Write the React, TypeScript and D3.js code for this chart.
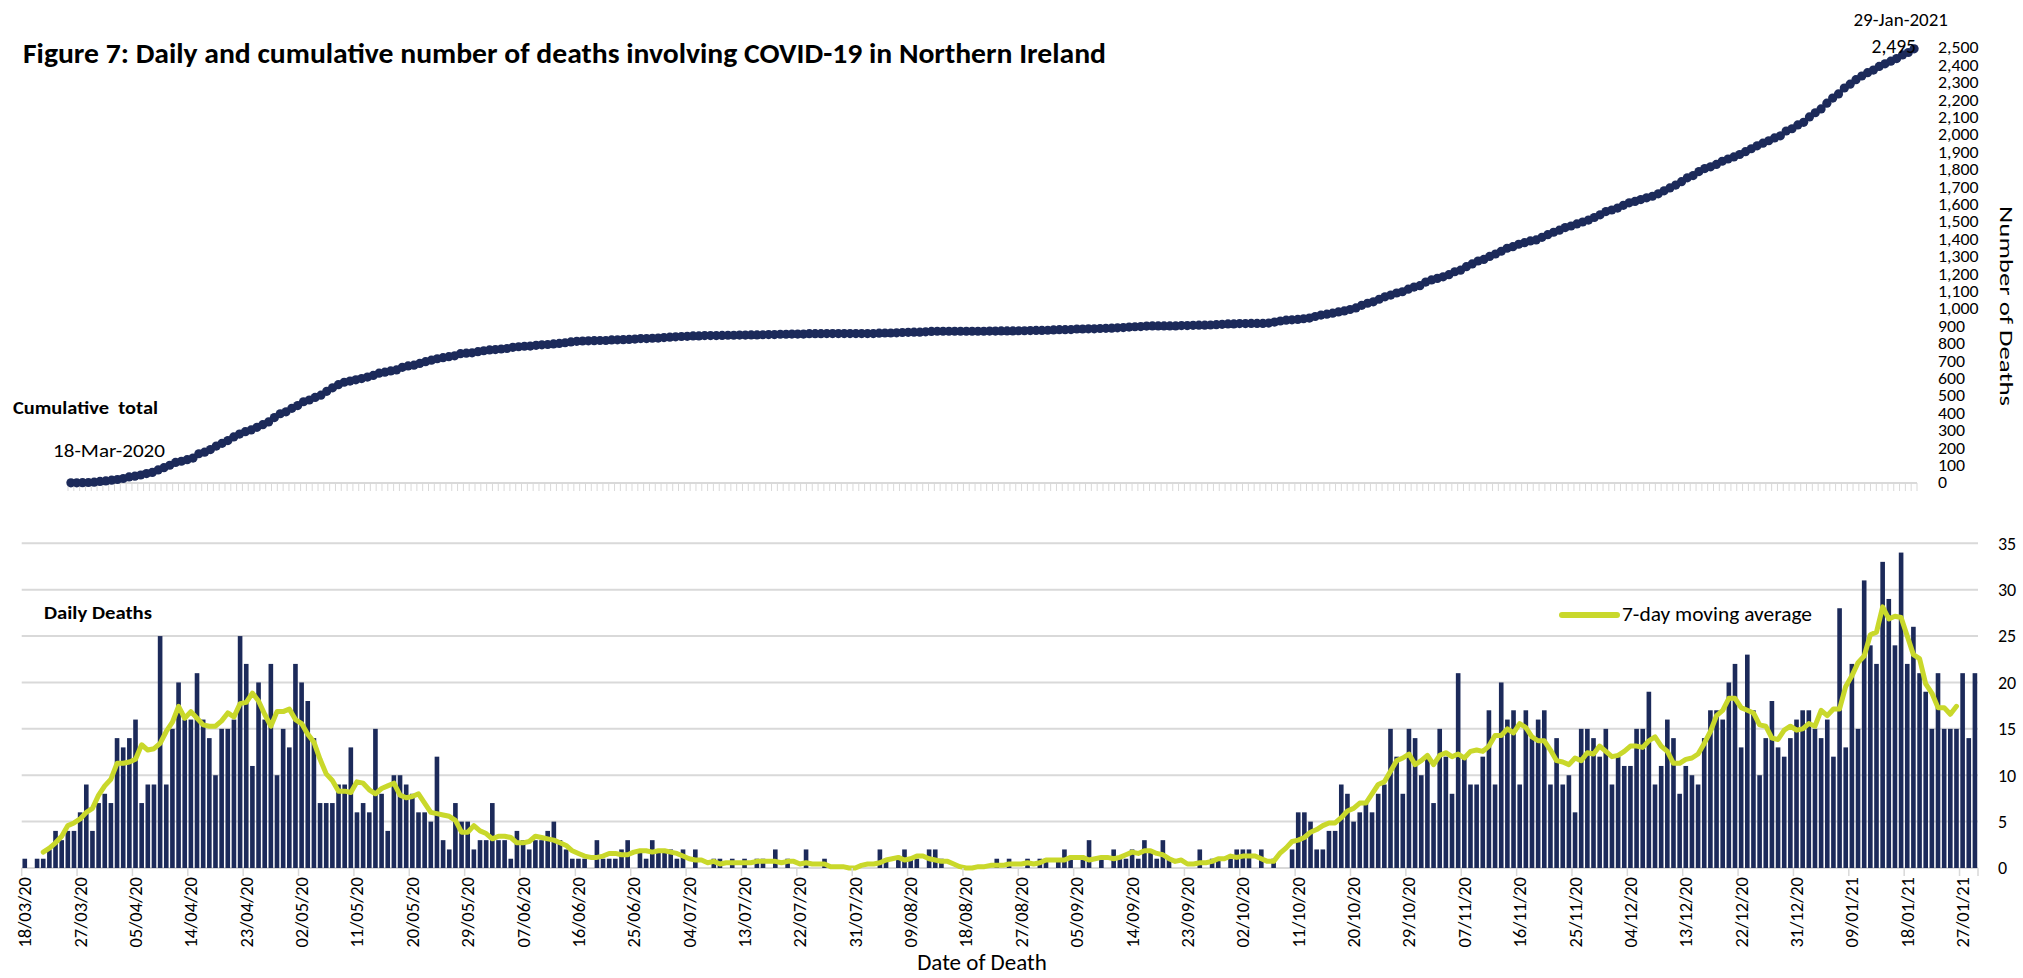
import * as d3 from "d3";

// Daily deaths by date of death, 18/03/2020 - 29/01/2021 (one array per month)
const dailyMar = [1, 0, 1, 1, 2, 4, 3, 4, 4, 6, 9, 4, 7, 8];
const dailyApr = [7, 14, 13, 14, 16, 7, 9, 9, 25, 9, 15, 20, 16, 16, 21, 16, 14, 10, 15, 15, 16, 25, 22, 11, 20, 16, 22, 10, 15, 13];
const dailyMay = [22, 20, 18, 14, 7, 7, 7, 9, 9, 13, 6, 7, 6, 15, 8, 4, 10, 10, 9, 8, 6, 6, 5, 12, 3, 2, 7, 5, 5, 2, 3];
const dailyJun = [3, 7, 3, 3, 1, 4, 3, 2, 3, 3, 4, 5, 3, 2, 1, 1, 1, 0, 3, 1, 1, 1, 2, 3, 0, 2, 1, 3, 2, 2];
const dailyJul = [2, 1, 2, 0, 2, 0, 0, 1, 1, 0, 1, 0, 1, 0, 1, 1, 0, 2, 0, 1, 0, 0, 2, 0, 0, 1, 0, 0, 0, 0, 0];
const dailyAug = [0, 0, 0, 2, 1, 0, 1, 2, 1, 1, 0, 2, 2, 1, 0, 0, 0, 0, 0, 0, 0, 0, 1, 0, 1, 0, 0, 1, 0, 1, 1];
const dailySep = [0, 1, 2, 1, 0, 1, 3, 0, 1, 0, 2, 1, 1, 2, 1, 3, 2, 1, 3, 1, 0, 0, 0, 0, 2, 0, 1, 1, 0, 1];
const dailyOct = [2, 2, 2, 0, 2, 0, 1, 0, 0, 2, 6, 6, 5, 2, 2, 4, 4, 9, 8, 5, 6, 7, 6, 8, 9, 15, 12, 8, 15, 14, 10];
const dailyNov = [12, 7, 15, 12, 8, 21, 12, 9, 9, 12, 17, 9, 20, 16, 17, 9, 17, 14, 16, 17, 9, 14, 9, 10, 6, 15, 15, 14, 12, 15];
const dailyDec = [9, 12, 11, 11, 15, 15, 19, 9, 11, 16, 14, 8, 11, 10, 9, 14, 17, 17, 16, 20, 22, 13, 23, 17, 10, 14, 18, 13, 12, 14, 16];
const dailyJan = [17, 17, 15, 14, 16, 12, 28, 13, 22, 15, 31, 24, 22, 33, 29, 24, 34, 22, 26, 21, 19, 15, 21, 15, 15, 15, 21, 14, 21];

// x-axis labels, every 9th day
const tickLabels = [
    "18/03/20", "27/03/20", "05/04/20", "14/04/20", "23/04/20", "02/05/20", "11/05/20", "20/05/20",
    "29/05/20", "07/06/20", "16/06/20", "25/06/20", "04/07/20", "13/07/20", "22/07/20", "31/07/20",
    "09/08/20", "18/08/20", "27/08/20", "05/09/20", "14/09/20", "23/09/20", "02/10/20", "11/10/20",
    "20/10/20", "29/10/20", "07/11/20", "16/11/20", "25/11/20", "04/12/20", "13/12/20", "22/12/20",
    "31/12/20", "09/01/21", "18/01/21", "27/01/21",
];
const cumTicks = d3.range(0, 2600, 100);
const dailyTicks = [0, 5, 10, 15, 20, 25, 30, 35];

const daily = [
    ...dailyMar, ...dailyApr, ...dailyMay, ...dailyJun, ...dailyJul, ...dailyAug,
    ...dailySep, ...dailyOct, ...dailyNov, ...dailyDec, ...dailyJan,
];
const cumulative = Array.from(d3.cumsum(daily));
// centred 7-day moving average
const movingAvg = daily.map((_, i) =>
    i < 3 || i > daily.length - 4 ? null : d3.mean(daily.slice(i - 3, i + 4))!
);

const W = 2023;
const H = 978;
const NAVY = "#1c2a5a";
const LIME = "#c9d82b";
const GRID = "#d9d9d9";
const FONT = "Carlito, Calibri, Lato, 'Open Sans', sans-serif";

export default function App() {
    const idx = daily.map((_, i) => i);

    // Top panel: cumulative
    const xTop = d3.scaleBand<number>().domain(idx).range([68, 1917]);
    const yTop = d3.scaleLinear().domain([0, 2500]).range([483, 48]);
    const cx = (i: number) => xTop(i)! + xTop.bandwidth() / 2;
    const cumLine = d3
        .line<number>()
        .x((_, i) => cx(i))
        .y((d) => yTop(d));

    // Bottom panel: daily
    const xBot = d3
        .scaleBand<number>()
        .domain(idx)
        .range([21.7, 1978])
        .paddingInner(0.25)
        .paddingOuter(0.125);
    const yBot = d3.scaleLinear().domain([0, 35]).range([868, 543.3]);
    const bx = (i: number) => xBot(i)! + xBot.bandwidth() / 2;
    const edge = (i: number) => xBot(i)! - xBot.step() * 0.125;
    const maLine = d3
        .line<number | null>()
        .defined((d) => d !== null)
        .x((_, i) => bx(i))
        .y((d) => yBot(d as number));

    const fmt = d3.format(",");
    const last = cumulative.length - 1;

    return (
        <svg
            width={W}
            height={H}
            style={{ position: "absolute", left: 0, top: 0, display: "block", background: "#fff" }}
            fontFamily={FONT}
        >
            {/* title */}
            <text x={23} y={63} fontSize={28} fontWeight="bold" fill="#000" textLength={1083} lengthAdjust="spacingAndGlyphs">
                Figure 7: Daily and cumulative number of deaths involving COVID-19 in Northern Ireland
            </text>

            {/* ---------- top panel ---------- */}
            <line x1={68} x2={1917} y1={483} y2={483} stroke={GRID} strokeWidth={2} />
            {idx.concat([idx.length]).map((i) => {
                const x = i < idx.length ? xTop(i)! : xTop.range()[1];
                return <line key={"tt" + i} x1={x} x2={x} y1={483} y2={491} stroke={GRID} strokeWidth={1} />;
            })}
            {cumTicks.map((t) => (
                <text
                    key={"ct" + t}
                    transform={`translate(1938,${yTop(t)}) scale(1.15,1)`}
                    dy="0.35em"
                    fontSize={15.5}
                    fill="#000"
                >
                    {fmt(t)}
                </text>
            ))}
            <text
                transform="translate(2007,306) rotate(90)"
                textAnchor="middle"
                dy="0.35em"
                fontSize={19}
                fill="#000"
                textLength={200}
                lengthAdjust="spacingAndGlyphs"
            >
                Number of Deaths
            </text>
            <path d={cumLine(cumulative)!} fill="none" stroke={NAVY} strokeWidth={4} />
            {cumulative.map((d, i) => (
                <circle key={"c" + i} cx={cx(i)} cy={yTop(d)} r={4.6} fill={NAVY} />
            ))}
            <text x={13} y={414} fontSize={18.5} fontWeight="bold" fill="#000" style={{ whiteSpace: "pre" }} textLength={145} lengthAdjust="spacingAndGlyphs">
                {"Cumulative  total"}
            </text>
            <text x={53} y={457} fontSize={18.5} fill="#000" textLength={112} lengthAdjust="spacingAndGlyphs">
                18-Mar-2020
            </text>
            <text x={1948} y={26} fontSize={19} textAnchor="end" fill="#000">
                29-Jan-2021
            </text>
            <text x={1916} y={53} fontSize={19.5} textAnchor="end" fill="#000">
                {fmt(cumulative[last])}
            </text>

            {/* ---------- bottom panel ---------- */}
            {dailyTicks.map((t) => (
                <line
                    key={"g" + t}
                    x1={21.7}
                    x2={1978}
                    y1={yBot(t)}
                    y2={yBot(t)}
                    stroke={GRID}
                    strokeWidth={2}
                />
            ))}
            {dailyTicks.map((t) => (
                <text key={"dt" + t} x={1998} y={yBot(t)} dy="0.35em" fontSize={18} fill="#000">
                    {t}
                </text>
            ))}
            {daily.map((d, i) => (
                <rect
                    key={"b" + i}
                    x={xBot(i)}
                    y={yBot(d)}
                    width={xBot.bandwidth()}
                    height={yBot(0) - yBot(d)}
                    fill={NAVY}
                />
            ))}
            <path
                d={maLine(movingAvg)!}
                fill="none"
                stroke={LIME}
                strokeWidth={5}
                strokeLinejoin="round"
                strokeLinecap="round"
            />
            {tickLabels.map((lab, k) => {
                const i = k * 9;
                return (
                    <g key={"xl" + k}>
                        <line x1={edge(i)} x2={edge(i)} y1={868} y2={876} stroke={GRID} strokeWidth={1.5} />
                        <text
                            transform={`translate(${bx(i)},877) rotate(-90)`}
                            textAnchor="end"
                            dy="0.35em"
                            fontSize={18.5}
                            fill="#000"
                        >
                            {lab}
                        </text>
                    </g>
                );
            })}
            <line
                x1={edge(last) + xBot.step()}
                x2={edge(last) + xBot.step()}
                y1={868}
                y2={876}
                stroke={GRID}
                strokeWidth={1.5}
            />
            <text x={44} y={619} fontSize={19} fontWeight="bold" fill="#000" textLength={108} lengthAdjust="spacingAndGlyphs">
                Daily Deaths
            </text>
            <line x1={1562} x2={1617} y1={615} y2={615} stroke={LIME} strokeWidth={6} strokeLinecap="round" />
            <text x={1622} y={621} fontSize={20} fill="#000" textLength={190} lengthAdjust="spacingAndGlyphs">
                7-day moving average
            </text>
            <text x={982} y={970} textAnchor="middle" fontSize={23} fill="#000">
                Date of Death
            </text>
        </svg>
    );
}
